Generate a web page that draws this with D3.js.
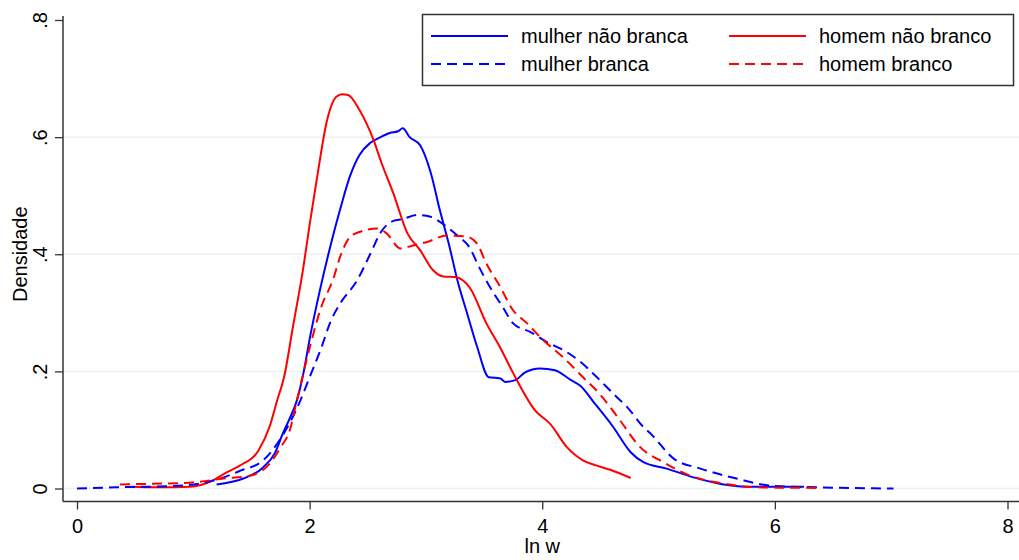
<!DOCTYPE html>
<html>
<head>
<meta charset="utf-8">
<script src="https://cdn.jsdelivr.net/npm/d3@7"></script>
<style>
  body { margin: 0; background: #fff; }
  text { font-family: "Liberation Sans", Arial, sans-serif; fill: #000; }
</style>
</head>
<body>
<div id="chart"></div>
<script>
const w = 1019;
const h = 560;

// tick values
const xTicks = [0, 2, 4, 6, 8];
const yTicks = [0, 0.2, 0.4, 0.6, 0.8];
const yTickLabels = ["0", ".2", ".4", ".6", ".8"];
const gridTicks = [0, 0.2, 0.4, 0.6];

// series: [ln w, densidade]
const mulherNaoBranca = [
  [1.2,0.007],[1.43,0.017],[1.6,0.036],[1.7,0.06],[1.77,0.094],[1.83,0.12],[1.89,0.15],
  [1.95,0.2],[2.0,0.255],[2.09,0.34],[2.18,0.415],[2.26,0.475],[2.35,0.535],[2.43,0.57],
  [2.52,0.59],[2.61,0.6],[2.69,0.607],[2.76,0.61],[2.8,0.615],[2.86,0.6],[2.95,0.586],
  [3.04,0.54],[3.12,0.475],[3.2,0.415],[3.27,0.356],[3.36,0.295],[3.44,0.242],[3.54,0.19],
  [3.64,0.188],[3.68,0.182],[3.77,0.185],[3.85,0.198],[3.98,0.205],[4.11,0.202],
  [4.24,0.186],[4.33,0.175],[4.44,0.148],[4.61,0.105],[4.76,0.062],[4.87,0.045],
  [5.07,0.034],[5.3,0.019],[5.56,0.007],[5.79,0.003],[6.07,0.003],[6.25,0.003]
];
const mulherBranca = [
  [0,0],[0.34,0.002],[0.91,0.005],[1.2,0.015],[1.4,0.03],[1.6,0.048],[1.75,0.085],
  [1.92,0.15],[2.0,0.19],[2.1,0.24],[2.18,0.285],[2.26,0.315],[2.41,0.356],[2.52,0.4],
  [2.61,0.437],[2.72,0.457],[2.8,0.46],[2.92,0.467],[3.04,0.464],[3.15,0.451],
  [3.27,0.432],[3.38,0.41],[3.44,0.385],[3.55,0.344],[3.66,0.31],[3.75,0.282],
  [3.9,0.267],[4.04,0.25],[4.21,0.233],[4.33,0.216],[4.47,0.19],[4.61,0.162],
  [4.73,0.139],[4.87,0.105],[4.93,0.094],[5.13,0.051],[5.36,0.034],[5.67,0.017],
  [5.96,0.005],[6.36,0.002],[7.02,0]
];
const homemNaoBranco = [
  [0.46,0.003],[0.7,0.002],[0.97,0.003],[1.17,0.014],[1.29,0.028],[1.4,0.039],
  [1.56,0.065],[1.66,0.108],[1.72,0.15],[1.78,0.19],[1.86,0.28],[1.94,0.37],[2.0,0.45],
  [2.06,0.526],[2.15,0.629],[2.23,0.669],[2.28,0.673],[2.33,0.672],[2.43,0.646],
  [2.55,0.595],[2.62,0.555],[2.72,0.504],[2.84,0.436],[2.95,0.407],[3.06,0.373],
  [3.15,0.362],[3.25,0.361],[3.38,0.342],[3.52,0.282],[3.64,0.24],[3.75,0.197],
  [3.94,0.133],[4.07,0.11],[4.21,0.071],[4.35,0.048],[4.47,0.039],[4.585,0.032],[4.76,0.018]
];
const homemBranco = [
  [0.37,0.007],[0.63,0.008],[0.97,0.01],[1.26,0.017],[1.49,0.022],[1.66,0.043],
  [1.75,0.07],[1.83,0.1],[1.89,0.15],[2.0,0.24],[2.1,0.31],[2.2,0.356],[2.27,0.4],
  [2.35,0.43],[2.43,0.438],[2.58,0.444],[2.66,0.436],[2.78,0.41],[2.89,0.415],
  [3.01,0.421],[3.18,0.432],[3.35,0.43],[3.44,0.418],[3.52,0.384],[3.64,0.344],
  [3.74,0.307],[3.87,0.282],[4.01,0.253],[4.18,0.224],[4.34,0.192],[4.5,0.16],
  [4.67,0.116],[4.84,0.071],[5.04,0.045],[5.27,0.022],[5.56,0.0085],[5.85,0.002],[6.36,0.001]
];

const seriesNames = ["mulher não branca", "homem não branco", "mulher branca", "homem branco"];
const seriesData = [mulherNaoBranca, homemNaoBranco, mulherBranca, homemBranco];
const seriesColors = ["#0000ff", "#ff0000", "#0000ff", "#ff0000"];
const seriesDashed = [false, false, true, true];

let svg = d3.select("#chart")
  .append("svg")
  .attr("width", w)
  .attr("height", h);

// scales
let x = d3.scaleLinear().domain([0, 8]).range([77, 1007.5]);
let y = d3.scaleLinear().domain([0, 0.8]).range([488.5, 20]);

const axisX = 63;
const axisY = 501.5;

// gridlines
svg.append("g")
  .selectAll("line")
  .data(gridTicks)
  .enter()
  .append("line")
  .attr("x1", axisX)
  .attr("x2", w)
  .attr("y1", d => y(d))
  .attr("y2", d => y(d))
  .attr("stroke", "#eaf2f3")
  .attr("stroke-width", 1.5);

// y axis
let gy = svg.append("g")
  .attr("transform", "translate(" + axisX + ",0)")
  .call(d3.axisLeft(y).tickValues(yTicks).tickSize(8).tickFormat((d, i) => yTickLabels[i]));
gy.select(".domain").attr("d", "M0,16V" + axisY).attr("stroke", "#333").attr("stroke-width", 1.5);
gy.selectAll(".tick line").attr("stroke", "#333").attr("stroke-width", 1.3);
gy.selectAll(".tick text")
  .attr("font-size", 20)
  .attr("font-family", "Liberation Sans, Arial, sans-serif")
  .attr("fill", "#000")
  .attr("transform", "rotate(-90)")
  .attr("x", 0)
  .attr("y", -16)
  .attr("dy", 0)
  .attr("text-anchor", "middle");

// x axis
let gx = svg.append("g")
  .attr("transform", "translate(0," + axisY + ")")
  .call(d3.axisBottom(x).tickValues(xTicks).tickSize(8).tickFormat(d3.format("d")));
gx.select(".domain").attr("d", "M" + axisX + ",0H" + w).attr("stroke", "#333").attr("stroke-width", 1.5);
gx.selectAll(".tick line").attr("stroke", "#333").attr("stroke-width", 1.3);
gx.selectAll(".tick text")
  .attr("font-size", 20)
  .attr("font-family", "Liberation Sans, Arial, sans-serif")
  .attr("fill", "#000")
  .attr("y", 31)
  .attr("dy", 0);

// axis titles
svg.append("text")
  .attr("transform", "translate(27," + y(0.4) + ") rotate(-90)")
  .attr("text-anchor", "middle")
  .attr("font-size", 20)
  .text("Densidade");

svg.append("text")
  .attr("x", x(4))
  .attr("y", 553)
  .attr("text-anchor", "middle")
  .attr("font-size", 20)
  .text("ln w");

// curves
let line = d3.line()
  .x(d => x(d[0]))
  .y(d => y(d[1]))
  .curve(d3.curveMonotoneX);

svg.append("g")
  .selectAll("path")
  .data(seriesData)
  .enter()
  .append("path")
  .attr("d", d => line(d))
  .attr("fill", "none")
  .attr("stroke", (d, i) => seriesColors[i])
  .attr("stroke-width", 2)
  .attr("stroke-linejoin", "round")
  .attr("stroke-dasharray", (d, i) => seriesDashed[i] ? "10,6" : null);

// legend
let legend = svg.append("g");
legend.append("rect")
  .attr("x", 422.5)
  .attr("y", 14.5)
  .attr("width", 591)
  .attr("height", 71)
  .attr("fill", "#fff")
  .attr("stroke", "#333")
  .attr("stroke-width", 1.5);

const legX = [431, 729];
const legY = [36, 64];
seriesNames.forEach((name, i) => {
  let cx = legX[i % 2];
  let cy = legY[Math.floor(i / 2)];
  legend.append("line")
    .attr("x1", cx)
    .attr("x2", cx + 77)
    .attr("y1", cy)
    .attr("y2", cy)
    .attr("stroke", seriesColors[i])
    .attr("stroke-width", 2)
    .attr("stroke-dasharray", seriesDashed[i] ? "10,6" : null);
  legend.append("text")
    .attr("x", cx + 90)
    .attr("y", cy + 7)
    .attr("font-size", 20)
    .text(name);
});
</script>
</body>
</html>
